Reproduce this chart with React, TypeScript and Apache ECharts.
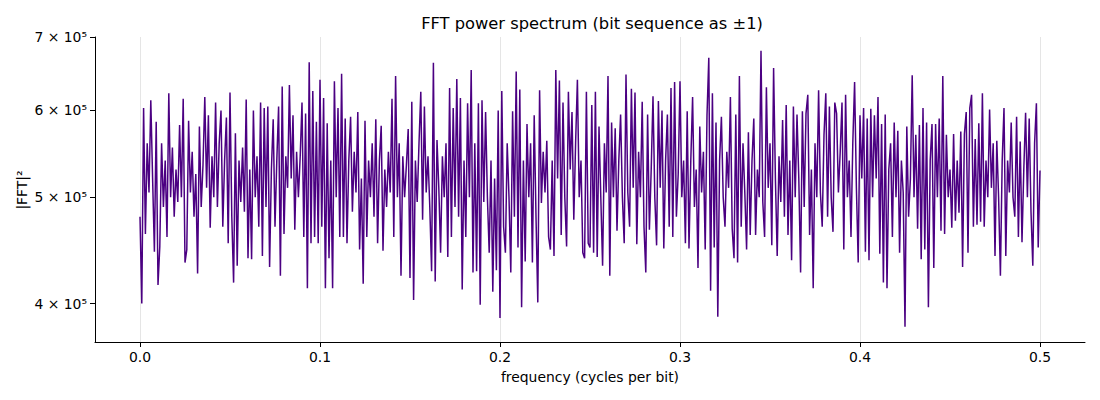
import React, { useEffect, useRef } from "react";
import * as echarts from "echarts";

const TITLE = "FFT power spectrum (bit sequence as ±1)";
const X_LABEL = "frequency (cycles per bit)";
const Y_LABEL = "|FFT|²";
const X_TICKS = [0, 0.1, 0.2, 0.3, 0.4, 0.5];
const Y_TICKS = [400000, 500000, 600000, 700000];
const FREQ_STEP = 0.001; // cycles per bit between consecutive points
const POWER_UNIT = 1000;
// |FFT|^2 values, in thousands (f = 0 ... 0.5)
const POWER_K = [
  480,400,603,463,560,505,613,520,446,586,
  416,451,560,490,540,460,622,500,555,480,
  530,495,582,500,615,436,448,587,505,550,
  480,525,426,580,490,535,617,510,594,469,
  545,500,610,490,560,600,470,540,591,454,
  623,480,418,572,433,540,495,555,485,614,
  440,530,439,600,500,545,470,610,442,603,
  490,605,432,530,589,470,540,605,424,631,
  463,545,510,633,
  520,594,467,550,500,545,610,460,596,413,
  664,454,625,460,586,454,640,470,616,413,
  584,440,540,413,638,500,603,460,648,460,
  590,454,540,592,485,550,505,598,448,520,
  417,587,460,540,500,560,480,589,454,540,
  581,447,530,490,550,505,615,460,645,500,
  560,424,545,500,535,577,422,611,403,540,
  495,560,624,477,605,505,545,490,428,663,
  419,564,510,
  445,545,500,560,441,629,460,603,490,641,
  480,616,412,540,460,609,500,653,427,560,
  428,609,399,613,495,598,500,445,540,410,
  520,429,600,388,625,470,445,560,500,427,
  599,480,651,450,627,397,540,437,583,500,
  560,436,594,480,401,626,494,550,505,563,
  460,448,540,442,653,520,639,462,610,500,
  451,624,530,598,477,560,640,500,540,445,
  440,
  624,454,450,607,445,624,441,580,500,433,
  560,505,645,424,585,500,578,466,540,595,
  500,454,647,505,470,628,510,623,453,550,
  500,611,470,427,595,467,530,618,500,452,
  612,510,600,449,540,595,470,629,460,637,
  480,525,638,500,540,454,599,449,540,617,
  490,530,431,580,505,550,448,594,670,411,
  622,450,585,389,540,592,500,470,550,510,
  617,468,440,595,436,
  645,470,560,505,448,573,462,540,590,462,
  530,500,680,495,460,630,510,560,452,656,
  520,442,545,495,588,480,607,462,540,438,
  605,500,595,520,427,599,490,596,620,462,
  530,413,560,500,626,505,470,570,622,480,
  605,500,465,610,596,505,550,610,448,620,
  500,540,460,560,637,510,436,594,520,603,
  446,590,438,602,500,594,520,617,444,583,
  418,595,413,
  530,560,460,585,500,575,445,540,505,381,
  580,480,520,646,500,570,468,582,439,603,
  448,585,397,540,583,431,583,500,590,466,
  645,463,570,500,530,469,571,476,540,484,
  574,432,571,598,445,603,620,470,565,472,
  584,475,622,470,540,500,601,510,560,442,
  563,500,424,540,603,442,540,505,585,500,
  480,592,460,562,455,530,597,500,590,485,
  433,560,609,450,529,
];

const FONT = "DejaVu Sans";

export default function App() {
  const ref = useRef<HTMLDivElement>(null);
  useEffect(() => {
    if (!ref.current) return;
    const chart = echarts.init(ref.current, null, { renderer: "svg" });
    const data = POWER_K.map((p, i) => [i * FREQ_STEP, p * POWER_UNIT]);
    chart.setOption({
      animation: false,
      textStyle: { fontFamily: FONT, color: "#000" },
      grid: { left: 95, right: 15, top: 37, bottom: 58, containLabel: false },
      graphic: [
        {
          type: "text",
          x: 592,
          y: 23,
          style: {
            text: TITLE,
            fill: "#000",
            font: `16.3px '${FONT}'`,
            textAlign: "center",
            textVerticalAlign: "middle",
          },
        },
        {
          type: "text",
          x: 590,
          y: 377,
          style: {
            text: X_LABEL,
            fill: "#000",
            font: `13.9px '${FONT}'`,
            textAlign: "center",
            textVerticalAlign: "middle",
          },
        },
        {
          type: "text",
          x: 22,
          y: 190,
          rotation: Math.PI / 2,
          style: {
            text: Y_LABEL,
            fill: "#000",
            font: `13.9px '${FONT}'`,
            textAlign: "center",
            textVerticalAlign: "middle",
          },
        },
      ],
      xAxis: {
        type: "value",
        position: "bottom",
        min: -0.025,
        max: 0.525,
        axisLine: { show: true, onZero: false, lineStyle: { color: "#000", width: 1 } },
        axisTick: {
          show: true,
          customValues: X_TICKS,
          length: 5,
          lineStyle: { color: "#000", width: 1 },
        },
        axisLabel: {
          customValues: X_TICKS,
          formatter: (v: number) => v.toFixed(1),
          color: "#000",
          fontFamily: FONT,
          fontSize: 13.9,
          margin: 8,
        },
        splitLine: {
          show: true,
          customValues: X_TICKS,
          lineStyle: { color: "#e5e5e5", width: 1 },
        },
      },
      yAxis: {
        type: "log",
        logBase: 10,
        position: "left",
        min: 369000,
        max: 700000,
        axisLine: { show: true, onZero: false, lineStyle: { color: "#000", width: 1 } },
        axisTick: {
          show: true,
          customValues: Y_TICKS,
          length: 5,
          lineStyle: { color: "#000", width: 1 },
        },
        axisLabel: {
          customValues: Y_TICKS,
          formatter: (v: number) => `${Math.round(v / 100000)} × 10⁵`,
          color: "#000",
          fontFamily: FONT,
          fontSize: 13.9,
          margin: 8,
        },
        splitLine: { show: false },
        minorTick: { show: false },
        minorSplitLine: { show: false },
      },
      series: [
        {
          type: "line",
          data,
          showSymbol: false,
          symbol: "none",
          silent: true,
          lineStyle: { color: "#4b0082", width: 1.5 },
          itemStyle: { color: "#4b0082" },
        },
      ],
    });
    return () => chart.dispose();
  }, []);
  return (
    <div
      ref={ref}
      style={{ position: "absolute", left: 0, top: 0, width: 1100, height: 400 }}
    />
  );
}
